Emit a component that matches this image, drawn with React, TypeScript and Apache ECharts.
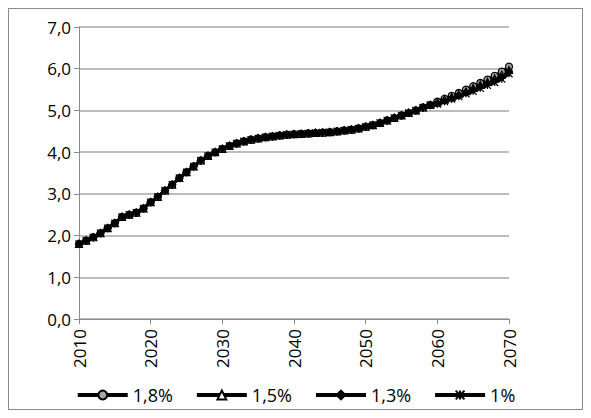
import React, { useEffect, useRef } from "react";
import * as echarts from "echarts";

const years: string[] = [];
for (let y = 2010; y <= 2070; y++) years.push(String(y));

const common = [
  1.80, 1.88, 1.96, 2.06, 2.18, 2.30, 2.45, 2.50, 2.55, 2.65,
  2.80, 2.93, 3.08, 3.22, 3.38, 3.52, 3.66, 3.80, 3.91, 4.00,
  4.08, 4.15, 4.21, 4.26, 4.30, 4.33, 4.36, 4.38, 4.40, 4.42,
  4.43, 4.44, 4.45, 4.46, 4.47, 4.48, 4.50, 4.52, 4.54, 4.57,
  4.61, 4.65, 4.70, 4.76, 4.82, 4.88, 4.94, 5.00, 5.07, 5.13,
];
const tail18 = [5.21, 5.28, 5.35, 5.42, 5.50, 5.58, 5.66, 5.74, 5.83, 5.93, 6.05];
const tail15 = [5.19, 5.26, 5.32, 5.39, 5.46, 5.54, 5.62, 5.69, 5.77, 5.86, 5.97];
const tail13 = [5.17, 5.23, 5.29, 5.36, 5.43, 5.50, 5.57, 5.64, 5.72, 5.80, 5.92];
const tail10 = [5.15, 5.21, 5.27, 5.33, 5.40, 5.46, 5.53, 5.60, 5.67, 5.75, 5.88];

const seriesNames = ["1,8%", "1,5%", "1,3%", "1%"];
const seriesData = [
  common.concat(tail18),
  common.concat(tail15),
  common.concat(tail13),
  common.concat(tail10),
];
const symbols = ["circle", "triangle", "diamond", "path://M0,0L10,10M10,0L0,10M5,0L5,10"];
const fills = ["#a6a6a6", "#ffffff", "#000000", "#000000"];

export default function App() {
  const ref = useRef<HTMLDivElement | null>(null);

  useEffect(() => {
    if (!ref.current) return;
    const chart = echarts.init(ref.current, null, { renderer: "svg" });
    const font = "Open Sans";
    chart.setOption({
      animation: false,
      textStyle: { fontFamily: font },
      grid: { left: 70, right: 73, top: 18, bottom: 90 },
      legend: {
        bottom: 0,
        left: "center",
        itemWidth: 50,
        itemHeight: 11,
        itemGap: 22,
        lineStyle: { width: 4 },
        textStyle: { fontSize: 18, color: "#000", fontFamily: font },
        data: seriesNames,
      },
      xAxis: {
        type: "category",
        data: years,
        boundaryGap: false,
        axisLine: { lineStyle: { color: "#8c8c8c" } },
        axisTick: { interval: 9, lineStyle: { color: "#8c8c8c" }, length: 5 },
        axisLabel: { interval: 9, rotate: 90, fontSize: 17, color: "#000", margin: 10 },
      },
      yAxis: {
        type: "value",
        min: 0,
        max: 7,
        interval: 1,
        axisLine: { show: true, lineStyle: { color: "#8c8c8c" } },
        axisTick: { show: true, lineStyle: { color: "#8c8c8c" } },
        splitLine: { lineStyle: { color: "#a6a6a6", width: 1.5 } },
        axisLabel: {
          fontSize: 17,
          color: "#000",
          formatter: (v: number) => v.toFixed(1).replace(".", ","),
        },
      },
      series: seriesNames.map((name, i) => ({
        name,
        type: "line",
        data: seriesData[i],
        symbol: symbols[i],
        symbolSize: 7,
        showAllSymbol: true,
        lineStyle: { color: "#000", width: 3 },
        itemStyle: { color: fills[i], borderColor: "#000", borderWidth: 1.2 },
      })),
    });
    return () => chart.dispose();
  }, []);

  return (
    <div style={{ width: 573, height: 400, border: "1px solid #8c8c8c", background: "#fff" }}>
      <div ref={ref} style={{ width: 573, height: 400 }} />
    </div>
  );
}
